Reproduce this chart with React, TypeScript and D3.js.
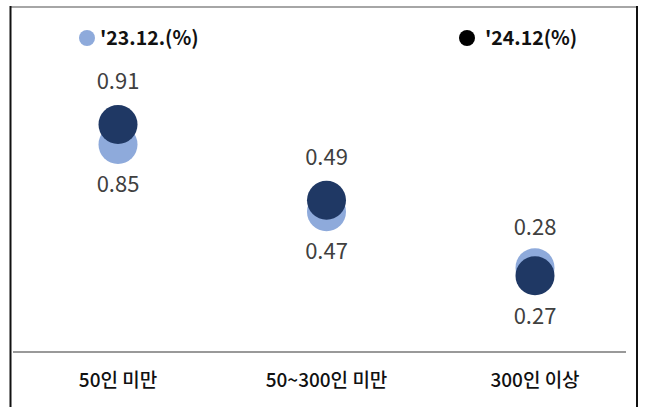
import React from "react";
import * as d3 from "d3";

const categories = ["50인 미만", "50~300인 미만", "300인 이상"];
const series23 = [0.85, 0.47, 0.28];
const series24 = [0.91, 0.49, 0.27];
const legendLabels = ["'23.12.(%)", "'24.12(%)"];

const W = 646;
const H = 407;
const FONT = "'Noto Sans CJK KR', 'Noto Sans', sans-serif";
const LIGHT = "#8eaadb";
const DARK = "#1f3864";

export default function App() {
  const x = d3.scalePoint<string>().domain(categories).range([118, 535]);
  // pair centre position (log scale of pair mean)
  const yCenter = d3.scaleLog().domain([0.1, 1]).range([391.1, 119.4]);
  // exaggerated separation between the two dots of a pair
  const sep = d3.scaleSqrt().domain([0, 0.06]).range([0, 20]);
  const r = 19.5;

  return (
    <svg width={W} height={H} style={{ position: "absolute", left: 0, top: 0 }}>
      <rect width={W} height={H} fill="#fff" />
      {/* frame */}
      <line x1={10} x2={637} y1={7} y2={7} stroke="#888" strokeWidth={1.5} />
      <line x1={10.5} x2={10.5} y1={6} y2={H} stroke="#111" strokeWidth={2} />
      <line x1={637} x2={637} y1={6} y2={H} stroke="#111" strokeWidth={2} />
      {/* axis */}
      <line x1={13} x2={626} y1={352} y2={352} stroke="#777" strokeWidth={1.5} />
      {/* legend */}
      <circle cx={87} cy={38} r={8} fill={LIGHT} />
      <text x={100} y={45} fontFamily={FONT} fontSize={19.5} fontWeight={700} fill="#111">
        {legendLabels[0]}
      </text>
      <circle cx={467} cy={38} r={8} fill="#000" />
      <text x={485} y={45} fontFamily={FONT} fontSize={19.5} fontWeight={700} fill="#111">
        {legendLabels[1]}
      </text>
      {categories.map((c, i) => {
        const cx = x(c)!;
        const a = series23[i];
        const b = series24[i];
        const mid = yCenter((a + b) / 2);
        const half = sep(Math.abs(b - a)) / 2;
        const y23 = a > b ? mid - half : mid + half;
        const y24 = a > b ? mid + half : mid - half;
        const ly23 = a > b ? y23 - 40 : y23 + 40;
        const ly24 = a > b ? y24 + 40 : y24 - 43;
        return (
          <g key={c}>
            <circle cx={cx} cy={y23} r={r} fill={LIGHT} />
            <circle cx={cx} cy={y24} r={r} fill={DARK} />
            <text x={cx} y={ly23} dy="0.35em" textAnchor="middle" fontFamily={FONT} fontSize={22} fill="#404040">
              {a.toFixed(2)}
            </text>
            <text x={cx} y={ly24} dy="0.35em" textAnchor="middle" fontFamily={FONT} fontSize={22} fill="#404040">
              {b.toFixed(2)}
            </text>
            <text x={cx} y={380} dy="0.35em" textAnchor="middle" fontFamily={FONT} fontSize={19} fontWeight={500} fill="#111">
              {c}
            </text>
          </g>
        );
      })}
    </svg>
  );
}
